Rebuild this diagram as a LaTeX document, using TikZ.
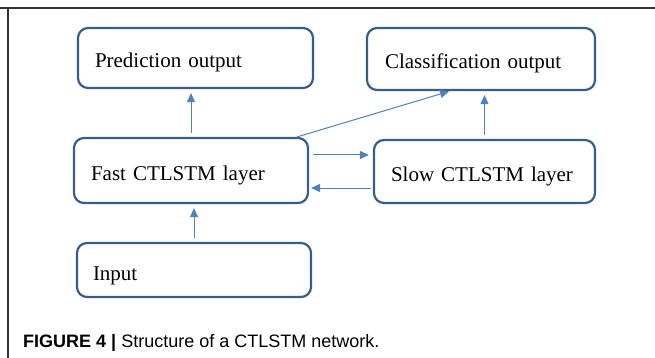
\documentclass[tikz,border=0pt]{standalone}
\usepackage{fontspec}
\setmainfont[WordSpace=0.6]{Liberation Serif}
\newfontfamily\captionfont{Liberation Sans}
\usetikzlibrary{calc}
\usetikzlibrary{arrows.meta}
\definecolor{boxblue}{HTML}{385D8A}
\definecolor{linkblue}{HTML}{4F81BD}
\definecolor{rulegray}{HTML}{333333}
\tikzset{
	layerstyle/.style={rectangle,rounded corners=10pt,draw=boxblue,line width=2.2pt,fill=white,align=left,inner xsep=17pt,inner ysep=0pt,text height=24pt,text depth=4pt,font=\fontsize{21}{25}\selectfont},
	linkstyle/.style={draw=linkblue,line width=1pt,-{Triangle[length=9pt,width=8pt]}},
	rulestyle/.style={draw=rulegray,line width=1.3pt}
}

\begin{document}
\begin{tikzpicture}[x=1pt,y=-1pt]
		\useasboundingbox (0,0) rectangle (655,358);
		\draw[rulestyle] (0,8) -- (655,8);
		\draw[rulestyle] (8,8) -- (8,358);
		\node[layerstyle,minimum width=235pt,minimum height=60pt,text width=201pt] (pred) at (195.5,58) {Prediction output};
		\node[layerstyle,minimum width=228pt,minimum height=62pt,text width=192pt,inner xsep=18pt] (cls) at (481,59) {Classification output};
		\node[layerstyle,minimum width=234pt,minimum height=65pt,text width=200pt] (fast) at (191,170.5) {Fast CTLSTM layer};
		\node[layerstyle,minimum width=221pt,minimum height=63pt,text width=187pt] (slow) at (484.5,171.5) {Slow CTLSTM layer};
		\node[layerstyle,minimum width=234pt,minimum height=54pt,text width=202pt,inner xsep=16pt] (input) at (194,270) {Input};
		\coordinate (fastout) at ([yshift=15.5pt]fast.east);
		\coordinate (fastin) at ([yshift=-17.5pt]fast.east);
		\coordinate (fastcorner) at ([xshift=-12pt]fast.north east);
		\coordinate (clsfoot) at ([xshift=-31pt]cls.south);
		\draw[linkstyle,shorten <=4pt,shorten >=4pt] (input.north) -- (input.north |- fast.south);
		\draw[linkstyle,shorten <=4pt,shorten >=4pt] (fast.north) -- (fast.north |- pred.south);
		\draw[linkstyle,shorten <=4pt,shorten >=4pt] (slow.north) -- (slow.north |- cls.south);
		\draw[linkstyle,shorten <=4pt,shorten >=4pt] (fastout) -- (fastout -| slow.west);
		\draw[linkstyle,shorten <=2pt,shorten >=2pt] (fastin -| slow.west) -- (fastin);
		\draw[linkstyle,shorten >=1pt] (fastcorner) -- (clsfoot);
		\node[anchor=base west,inner sep=0pt,font=\captionfont\fontsize{18}{22}\selectfont] (caption) at (23,347) {\textbf{FIGURE 4 |} Structure of a CTLSTM network.};
\end{tikzpicture}
\end{document}
